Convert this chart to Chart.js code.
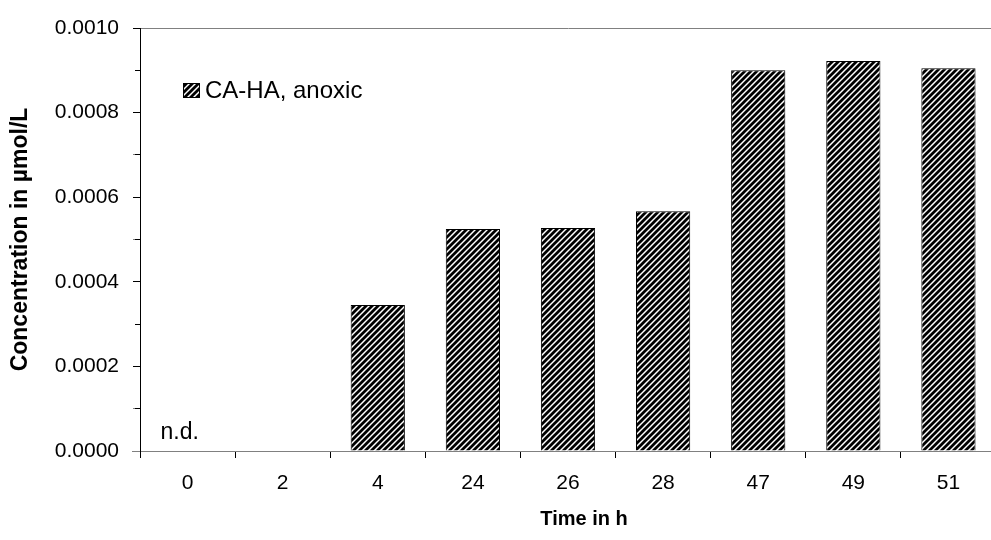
<!DOCTYPE html>
<html>
<head>
<meta charset="utf-8">
<script src="https://cdn.jsdelivr.net/npm/chart.js@4.4.1/dist/chart.umd.min.js"></script>
<style>
  html, body { margin: 0; padding: 0; background: #fff; overflow: hidden; }
  #wrap { width: 996px; height: 540px; }
</style>
</head>
<body>
<div id="wrap"><canvas id="concChart" width="996" height="540"></canvas></div>
<script>
const categories = ['0', '2', '4', '24', '26', '28', '47', '49', '51'];
const concValues = [null, null, 0.000345, 0.000525, 0.000527, 0.000567, 0.000900, 0.000922, 0.000905];
const seriesLabel = 'CA-HA, anoxic';
const notDetectedLabel = 'n.d.';
const xTitle = 'Time in h';
const yTitle = 'Concentration in µmol/L';

const FONT = "'Liberation Sans', Arial, sans-serif";

// diagonal hatch fill
function makeHatch() {
    const c = document.createElement('canvas');
    c.width = 6;
    c.height = 6;
    const g = c.getContext('2d');
    g.fillStyle = '#fff';
    g.fillRect(0, 0, 6, 6);
    g.strokeStyle = '#000';
    g.lineWidth = 2.8;
    g.beginPath();
    g.moveTo(-1, 7); g.lineTo(7, -1);
    g.moveTo(-4, 4); g.lineTo(4, -4);
    g.moveTo(2, 10); g.lineTo(10, 2);
    g.stroke();
    return g.createPattern(c, 'repeat');
}
const hatch = makeHatch();

const extras = {
    id: 'extras',
    afterDraw(chart) {
        const ctx = chart.ctx;
        const area = chart.chartArea;
        const x = chart.scales.x;
        const y = chart.scales.y;
        const y0 = y.getPixelForValue(0);
        ctx.save();
        // x axis line continues a bit left of the y axis
        ctx.strokeStyle = '#808080';
        ctx.lineWidth = 1;
        ctx.beginPath();
        ctx.moveTo(area.left - 8, y0 + 0.5);
        ctx.lineTo(area.left, y0 + 0.5);
        ctx.stroke();

        // minor y ticks are shorter: blank out their outer part
        ctx.strokeStyle = '#fff';
        ctx.lineWidth = 2;
        for (let v = 1; v < 10; v += 2) {
            const py = Math.round(y.getPixelForValue(v * 0.0001)) + 0.5;
            ctx.beginPath();
            ctx.moveTo(area.left - 8, py);
            ctx.lineTo(area.left - 5, py);
            ctx.stroke();
        }

        // n.d. marker
        ctx.fillStyle = '#000';
        ctx.font = '23px ' + FONT;
        ctx.textAlign = 'left';
        ctx.textBaseline = 'alphabetic';
        ctx.fillText(notDetectedLabel, x.getPixelForValue(0) - 27, y0 - 12);

        // legend inside plot
        const bx = area.left + 43, by = area.top + 55;
        ctx.fillStyle = hatch;
        ctx.fillRect(bx, by, 17, 15);
        ctx.strokeStyle = '#000';
        ctx.lineWidth = 1;
        ctx.strokeRect(bx + 0.5, by + 0.5, 16, 14);
        ctx.fillStyle = '#000';
        ctx.font = '24px ' + FONT;
        ctx.textBaseline = 'middle';
        ctx.fillText(seriesLabel, bx + 22, by + 8);

        // x axis title
        ctx.font = 'bold 20px ' + FONT;
        ctx.textAlign = 'center';
        ctx.textBaseline = 'alphabetic';
        ctx.fillText(xTitle, (area.left + area.right) / 2 + 16, 525);
        ctx.restore();
    }
};

new Chart(document.getElementById('concChart'), {
    type: 'bar',
    data: {
        labels: categories,
        datasets: [{
            label: seriesLabel,
            data: concValues,
            backgroundColor: hatch,
            borderColor: '#000',
            borderWidth: 1,
            barPercentage: 0.57,
            categoryPercentage: 1.0
        }]
    },
    options: {
        responsive: false,
        animation: false,
        layout: { padding: { top: 28, right: 0, left: 0, bottom: 0 } },
        plugins: {
            legend: { display: false },
            tooltip: { enabled: false }
        },
        scales: {
            x: {
                offset: true,
                grid: {
                    offset: true,
                    drawOnChartArea: false,
                    tickLength: 7,
                    tickColor: '#000'
                },
                border: { color: '#808080', width: 1 },
                ticks: {
                    color: '#000',
                    padding: 13,
                    font: { family: FONT, size: 21 }
                },
                title: { display: false },
                afterFit(scale) { scale.height = 89; }
            },
            y: {
                min: 0,
                max: 0.001,
                grid: {
                    color: (c) => (c.tick && Math.abs(c.tick.value - 0.001) < 1e-9) ? '#808080' : 'rgba(0,0,0,0)',
                    tickColor: '#000',
                    tickLength: 7
                },
                border: { color: '#000', width: 1 },
                ticks: {
                    stepSize: 0.0001,
                    autoSkip: false,
                    color: '#000',
                    padding: 14,
                    font: { family: FONT, size: 21 },
                    callback: function (value) {
                        return Math.round(value * 10000) % 2 === 0 ? value.toFixed(4) : '';
                    }
                },
                title: {
                    display: true,
                    text: yTitle,
                    color: '#000',
                    padding: { top: 7, bottom: 0 },
                    font: { family: FONT, size: 23, weight: 'bold' }
                },
                afterFit(scale) { scale.width = 140; }
            }
        }
    },
    plugins: [extras]
});
</script>
</body>
</html>
